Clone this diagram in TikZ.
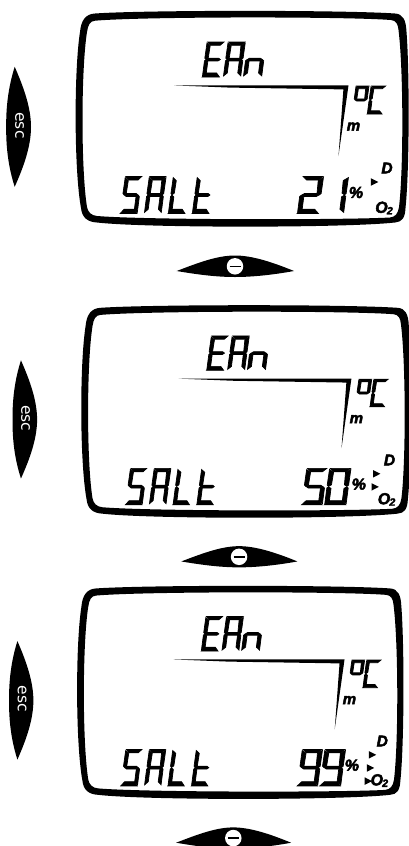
\documentclass[tikz,border=0pt]{standalone}
\usepackage{fontspec}
\setmainfont{Liberation Sans}
\newfontfamily\escfont{DejaVu Sans}
\newfontfamily\heavyfont[UprightFont=* Bold Italic,FakeBold=3]{Liberation Sans}
% The LCD glyphs are drawn as seven-segment polygons, since no segment font is installed.
% Each such string is also set as a real, fully transparent text node on top of its glyphs.
\tikzset{
  lcdtxt/.style={text opacity=0,inner sep=0pt,font=\fontsize{26}{26}\selectfont},
  boldlbl/.style={inner sep=0pt,font=\heavyfont\fontsize{#1}{#1}\selectfont},
  frameshape/.style={fill=black,even odd rule},
  tri/.style={fill=black},
  segstroke/.style={line width=#1,line join=miter,draw=black,fill=black},
}
\newcommand{\sega}{\filldraw (0.06,1)--(0.97,1)--(0.78,0.905)--(0.24,0.905)--cycle;}
\newcommand{\segb}{\filldraw (0.99,0.97)--(0.98,0.54)--(0.91,0.505)--(0.79,0.55)--(0.77,0.89)--cycle;}
\newcommand{\segc}{\filldraw (0.98,0.46)--(0.98,0.03)--(0.79,0.115)--(0.79,0.45)--(0.91,0.495)--cycle;}
\newcommand{\segd}{\filldraw (0.01,0)--(0.97,0)--(0.78,0.115)--(0.20,0.115)--cycle;}
\newcommand{\sege}{\filldraw (0.02,0.46)--(0.02,0.03)--(0.21,0.115)--(0.21,0.45)--(0.09,0.495)--cycle;}
\newcommand{\segf}{\filldraw (0.03,0.97)--(0.02,0.54)--(0.09,0.505)--(0.21,0.55)--(0.23,0.89)--cycle;}
\newcommand{\segg}{\filldraw (0.11,0.5)--(0.22,0.54)--(0.78,0.54)--(0.89,0.5)--(0.78,0.46)--(0.22,0.46)--cycle;}
% x, y of bottom, width, height, list of segments
\newcommand{\ssg}[5]{%
  \begin{scope}[shift={(#1,#2)},x={(#3pt,0pt)},y={({0.13*#4 pt},#4 pt)},segstroke=0.7pt]
    \foreach \sname in {#5}{\csname seg\sname\endcsname}
  \end{scope}}
\newcommand{\trimark}[2]{\fill[tri] (#1-3.7,#2-3.8)--(#1+3.8,#2)--(#1-3.7,#2+3.8)--cycle;}
% prefix, shift x, shift y, xscale, yscale, contents
\newcommand{\lcdpanel}[6]{%
\begin{scope}[shift={(#2,#3)},xscale=#4,yscale=#5]
  \fill[frameshape]
    (95,13.5) .. controls (145,10) and (345,10) .. (395,13.5)
    .. controls (403,14) and (406,20) .. (406.5,32)
    .. controls (409.5,70) and (409.5,170) .. (405.5,208)
    .. controls (405,218) and (402,222) .. (395,222.5)
    .. controls (345,228) and (145,228) .. (97,222.5)
    .. controls (88,222) and (82,218) .. (81,208)
    .. controls (74,170) and (74,70) .. (80,32)
    .. controls (81,20) and (86,14) .. (95,13.5) -- cycle
    (95,20.7) .. controls (145,16.5) and (345,16.5) .. (391,20)
    .. controls (396,20.5) and (398,24) .. (398.5,30)
    .. controls (403.5,70) and (403.5,170) .. (399,207)
    .. controls (398,214) and (395,217) .. (390,217.5)
    .. controls (345,220) and (145,220) .. (97,216)
    .. controls (91,215.5) and (88,212) .. (87,207)
    .. controls (81,170) and (81,70) .. (87,32)
    .. controls (88,25) and (90,21) .. (95,20.7) -- cycle;
  % EAn
  \ssg{202}{77}{18}{35}{a,f,g,e,d}
  \ssg{223}{77}{18}{35}{a,b,c,e,f,g}
  \ssg{243}{77}{19}{35}{e,c,g}
  \node[lcdtxt] (#1ean) at (232,60) {EAn};
  % corner bar
  \fill (174,85.4)--(348.5,85.4)--(338.5,156)--(343.4,89.4)--(230,87.6)--cycle;
  % degree C
  \ssg{352}{114}{13.5}{28}{a,b,f,g}
  \ssg{367}{114}{15.5}{28}{a,f,e,d}
  \node[lcdtxt,font=\fontsize{22}{22}\selectfont] (#1degc) at (369,100) {°C};
  \node[boldlbl=15] (#1m) at (353.5,126.5) {m};
  % SALt
  \ssg{120}{213.5}{17.5}{37}{a,f,g,c,d}
  \ssg{144}{213.5}{17.5}{37}{a,b,c,e,f,g}
  \ssg{168}{213.5}{17.5}{37}{f,e,d}
  \ssg{192}{213.5}{17.5}{37}{f,e,g,d}
  \node[lcdtxt] (#1salt) at (167,195) {SALt};
  \node[boldlbl=16] (#1pct) at (356,192.5) {\%};
  \node[boldlbl=15.5] (#1d) at (387,168) {D};
  \node[boldlbl=16] (#1o) at (384,208) {O\kern-0.8pt\raisebox{-1.5pt}{\fontsize{10.5}{10.5}\selectfont 2}};
  % esc button
  \fill (14.7,66.8) .. controls (8,88) and (6,108) .. (6.2,127) .. controls (6,146) and (8,166) .. (14.7,186.8)
        .. controls (24,166) and (31,146) .. (31,127) .. controls (31,108) and (24,88) .. (14.7,66.8) -- cycle;
  \node[text=white,rotate=-90,inner sep=0pt,font=\escfont\fontsize{15.5}{15.5}\selectfont] (#1esc) at (19.5,125.5) {esc};
  % minus button
  \fill (176.7,271) .. controls (200,262) and (218,255.5) .. (235,255.5) .. controls (252,255.5) and (272,262) .. (294,271)
        .. controls (272,275) and (252,277) .. (235,277) .. controls (218,277) and (200,275) .. (176.7,271) -- cycle;
  \node[circle,fill=white,inner sep=0pt,minimum size=16.5pt] (#1minus) at (235,266.3) {};
  \draw[line width=1.4pt] ([xshift=-5.5pt]#1minus.center) -- ([xshift=5.5pt]#1minus.center);
  #6
\end{scope}}
\begin{document}
\begin{tikzpicture}[x=1pt,y=-1pt]
\useasboundingbox (0,0) rectangle (409,846);
\clip (0,0) rectangle (409,846);
\lcdpanel{p}{0}{0}{1}{1}{%
  \ssg{297}{213.5}{22}{37}{a,b,g,e,d}
  \ssg{322}{213.5}{22}{37}{b,c}
  \node[lcdtxt] (pval) at (323,195) {21};
  \trimark{374.5}{182}
}
\lcdpanel{q}{6.4}{294.5}{0.99}{0.985}{%
  \ssg{298}{213.5}{21.5}{37}{a,f,g,c,d}
  \ssg{321}{213.5}{22.5}{37}{a,b,c,d,e,f}
  \node[lcdtxt] (qval) at (323,195) {50};
  \trimark{374}{182}
  \trimark{372.5}{195.3}
}
\lcdpanel{r}{3}{575.1}{0.98}{0.9875}{%
  \ssg{300}{213.5}{21.5}{37}{a,b,c,d,f,g}
  \ssg{323}{213.5}{22}{37}{a,b,c,d,f,g}
  \node[lcdtxt] (rval) at (325,195) {99};
  \trimark{377}{182}
  \trimark{375}{195.3}
  \trimark{372.8}{208.6}
}
\end{tikzpicture}
\end{document}
